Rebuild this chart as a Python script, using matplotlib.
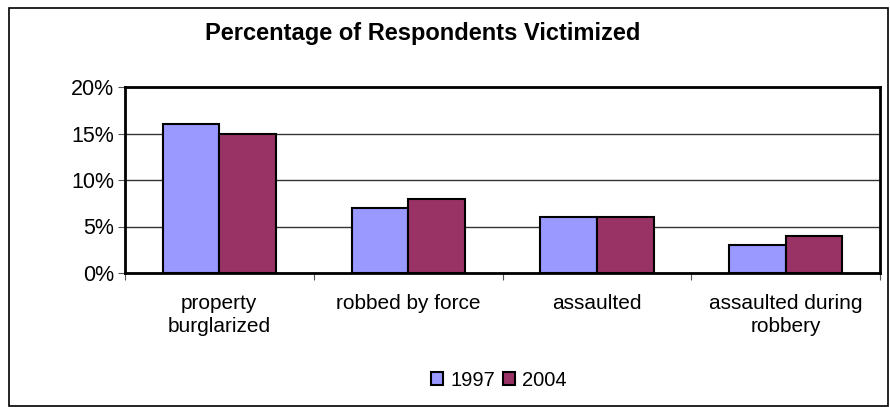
import matplotlib.pyplot as plt
import numpy as np
from matplotlib.patches import Rectangle, Patch

categorias = ['property\nburglarized', 'robbed by force', 'assaulted', 'assaulted during\nrobbery']
anios = ['1997', '2004']
valores_1997 = [16, 7, 6, 3]
valores_2004 = [15, 8, 6, 4]
colores = ['#9999FF', '#993366']

plt.rcParams['font.family'] = ['Liberation Sans', 'DejaVu Sans']

fig = plt.figure(figsize=(8.9, 4.07), dpi=100)
ax = fig.add_axes([125 / 890, 134 / 407, 755 / 890, 186 / 407])

x = np.arange(len(categorias))
ancho = 0.3
ax.bar(x - ancho / 2, valores_1997, ancho, color=colores[0], edgecolor='black', linewidth=1.5, zorder=3)
ax.bar(x + ancho / 2, valores_2004, ancho, color=colores[1], edgecolor='black', linewidth=1.5, zorder=3)

ax.set_xlim(-0.5, len(categorias) - 0.5)
ax.set_ylim(0, 20)
ax.set_yticks([0, 5, 10, 15, 20])
ax.set_yticklabels(['0%', '5%', '10%', '15%', '20%'], fontsize=15.5)
ax.yaxis.grid(True, color='#333333', linewidth=1, zorder=0)

# ticks en los limites de categoria, etiquetas en el centro
ax.set_xticks(np.arange(len(categorias) + 1) - 0.5)
ax.set_xticklabels([])
ax.set_xticks(x, minor=True)
ax.set_xticklabels(categorias, minor=True, fontsize=15, linespacing=1.3)
ax.tick_params(axis='x', which='minor', length=0, pad=15)
ax.tick_params(axis='x', which='major', length=5, color='#555555')
ax.tick_params(axis='y', length=5, color='#555555', pad=3)

for s in ax.spines.values():
    s.set_linewidth(2)
    s.set_color('black')

fig.text(423 / 890, 1 - 40 / 407, 'Percentage of Respondents Victimized', ha='center', va='baseline',
         fontsize=17, fontweight='bold')

handles = [Patch(facecolor=colores[i], edgecolor='black', linewidth=1.5, label=anios[i]) for i in range(2)]
fig.legend(handles=handles, loc='center', bbox_to_anchor=(499 / 890, 1 - 380 / 407), ncol=2, frameon=False,
           fontsize=14.5, handlelength=0.6, handleheight=0.6, handletextpad=0.35, columnspacing=0.4)

fig.patches.append(Rectangle((9 / 890, 0.002), 879 / 890, 1 - 8 / 407 - 0.002, transform=fig.transFigure,
                             fill=False, edgecolor='black', linewidth=1.2))

fig.savefig('out.png', dpi=100)
